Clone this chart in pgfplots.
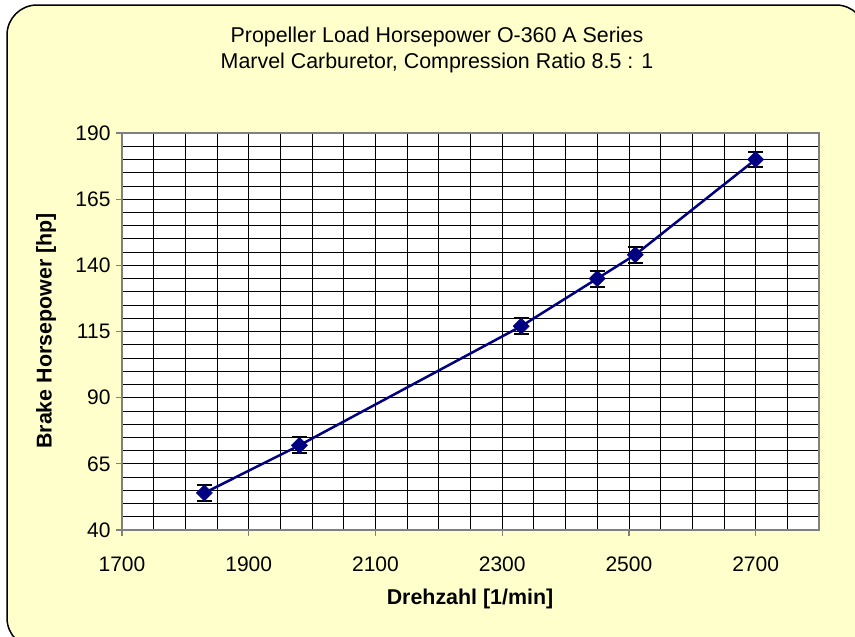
\documentclass[border=0pt]{standalone}
\usepackage{pgfplots}
\pgfplotsset{compat=1.18}
\usepackage{fontspec}
\setmainfont{Liberation Sans}
\definecolor{bgy}{HTML}{FFFFCC}
\definecolor{navy}{HTML}{000080}
\definecolor{axgray}{HTML}{808080}
\begin{document}
\begin{tikzpicture}[x=1pt,y=1pt]
\useasboundingbox (0pt,0pt) rectangle (855pt,-637pt);
\begin{scope}
\clip (0pt,0pt) rectangle (855pt,-637pt);
\draw[line width=1.5pt, fill=bgy, rounded corners=30pt] (7pt,-5pt) rectangle (866pt,-648pt);
\end{scope}
\node[font=\fontsize{21.4}{26}\selectfont, align=center] at (437pt,-50pt) {Propeller Load Horsepower O-360 A Series\\Marvel Carburetor, Compression Ratio 8.5 : 1};
\node[font=\fontsize{21.4}{26}\selectfont\bfseries, rotate=90] at (46pt,-331pt) {Brake Horsepower [hp]};
\node[font=\fontsize{21.4}{26}\selectfont\bfseries] at (470pt,-599pt) {Drehzahl [1/min]};
\begin{axis}[
  at={(122pt,-530pt)}, anchor=south west,
  scale only axis, width=697pt, height=397pt,
  xmin=1700, xmax=2800, ymin=40, ymax=190,
  xtick={1700,1900,...,2700}, ytick={40,65,...,190},
  minor xtick={1700,1750,...,2800}, minor ytick={40,45,...,190},
  grid=both,
  major grid style={black, line width=0.8pt},
  minor grid style={black, line width=0.8pt},
  axis line style={axgray, line width=2pt},
  axis background/.style={fill=white},
  tick align=outside, major tick length=6pt, minor tick length=0pt,
  tick style={axgray, line width=1.2pt},
  xtick pos=bottom, ytick pos=left,
  /pgf/number format/assume math mode=true,
  /pgf/number format/1000 sep={},
  tick label style={font=\fontsize{21}{24}\selectfont},
  xticklabel style={yshift=-17pt},
  yticklabel style={xshift=-2pt},
]
\addplot[navy, line width=2.5pt, mark=square*, mark size=5.7pt,
  mark options={rotate=45, fill=navy, draw=navy, line width=0.5pt},
  error bars/.cd, y dir=both, y explicit,
  error bar style={black, line width=2pt},
  error mark options={rotate=90, black, mark size=7.5pt, line width=2pt}]
coordinates {
(1830,54) +- (0,3)
(1980,72) +- (0,3)
(2330,117) +- (0,3)
(2450,135) +- (0,3)
(2510,144) +- (0,3)
(2700,180) +- (0,3)
};
\end{axis}
\end{tikzpicture}
\end{document}
